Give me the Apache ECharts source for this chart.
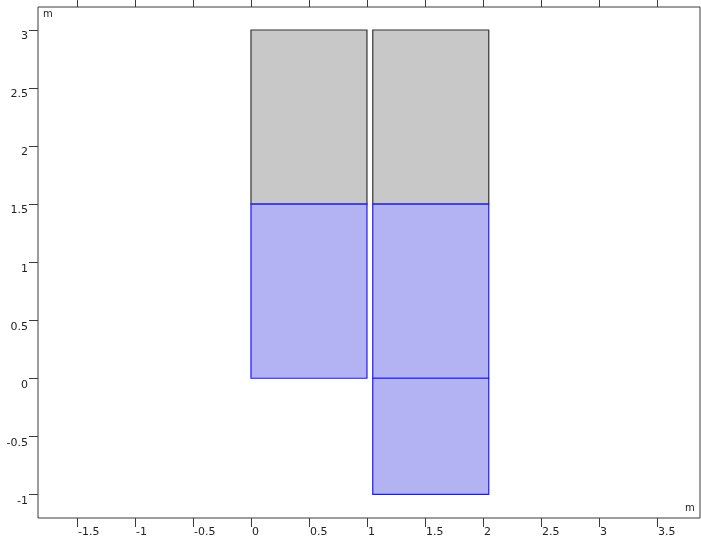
<!DOCTYPE html>
<html>
<head>
<meta charset="utf-8">
<script src="https://cdn.jsdelivr.net/npm/echarts@6/dist/echarts.min.js"></script>
<style>
html,body{margin:0;padding:0;background:#fff;}
#chart{width:701px;height:543px;}
</style>
</head>
<body>
<div id="chart"></div>
<script>
// Geometry rectangles (m)
var rectX0 = [0, 1.05, 0, 1.05, 1.05];
var rectX1 = [1, 2.05, 1, 2.05, 2.05];
var rectY0 = [1.5, 1.5, 0, 0, -1];
var rectY1 = [3, 3, 1.5, 1.5, 0];
var rectKind = ['gray', 'gray', 'blue', 'blue', 'blue'];

// Axis ticks
var xTicks = [-1.5, -1, -0.5, 0, 0.5, 1, 1.5, 2, 2.5, 3, 3.5];
var yTicks = [-1, -0.5, 0, 0.5, 1, 1.5, 2, 2.5, 3];
var xRange = [-1.836, 3.871];
var yRange = [-1.204, 3.198];

var styles = {
  gray: { fill: '#c8c8c8', stroke: '#333333' },
  blue: { fill: '#b3b3f3', stroke: '#1a1aff' }
};

var data = rectX0.map(function (x0, i) {
  return [x0, rectX1[i], rectY0[i], rectY1[i], rectKind[i]];
});

var chart = echarts.init(document.getElementById('chart'), null, { renderer: 'canvas' });
var font = 'DejaVu Sans';
var labelFmt = function (v) { return String(v); };

chart.setOption({
  animation: false,
  backgroundColor: '#ffffff',
  grid: {
    left: 38, right: 1, top: 7, bottom: 25,
    show: true, borderColor: '#3a3a3a', borderWidth: 1, backgroundColor: 'transparent'
  },
  xAxis: [{
    type: 'value', position: 'bottom', min: xRange[0], max: xRange[1],
    splitLine: { show: false },
    axisLine: { show: false, onZero: false },
    axisTick: { show: true, customValues: xTicks, length: 9, lineStyle: { color: '#3a3a3a', width: 1 } },
    axisLabel: {
      show: true, customValues: xTicks, formatter: labelFmt, margin: 9,
      align: 'left', verticalAlign: 'top', fontFamily: font, fontSize: 11, color: '#222', padding: [0, 0, 0, 1]
    }
  }, {
    type: 'value', position: 'top', min: xRange[0], max: xRange[1],
    splitLine: { show: false },
    axisLine: { show: false, onZero: false },
    axisTick: { show: true, customValues: xTicks, length: 7, lineStyle: { color: '#3a3a3a', width: 1 } },
    axisLabel: { show: false }
  }],
  yAxis: [{
    type: 'value', position: 'left', min: yRange[0], max: yRange[1],
    splitLine: { show: false },
    axisLine: { show: false, onZero: false },
    axisTick: { show: true, customValues: yTicks, length: 9, lineStyle: { color: '#3a3a3a', width: 1 } },
    axisLabel: {
      show: true, customValues: yTicks, formatter: labelFmt, margin: 10,
      align: 'right', verticalAlign: 'top', fontFamily: font, fontSize: 11, color: '#222', padding: [1, 0, 0, 0]
    }
  }],
  series: [{
    type: 'custom',
    xAxisIndex: 0,
    yAxisIndex: 0,
    data: data,
    encode: { x: [0, 1], y: [2, 3] },
    renderItem: function (params, api) {
      var p0 = api.coord([api.value(0), api.value(3)]);
      var p1 = api.coord([api.value(1), api.value(2)]);
      var kind = data[params.dataIndex][4];
      var st = styles[kind];
      return {
        type: 'rect',
        shape: { x: p0[0], y: p0[1], width: p1[0] - p0[0], height: p1[1] - p0[1] },
        style: { fill: st.fill, stroke: st.stroke, lineWidth: 1.2 },
        z2: kind === 'blue' ? 2 : 1
      };
    }
  }],
  graphic: [
    { type: 'text', left: 43, top: 9, style: { text: 'm', font: '10px "DejaVu Sans"', fill: '#222' } },
    { type: 'text', left: 685, top: 503, style: { text: 'm', font: '10px "DejaVu Sans"', fill: '#222' } }
  ]
});
</script>
</body>
</html>
